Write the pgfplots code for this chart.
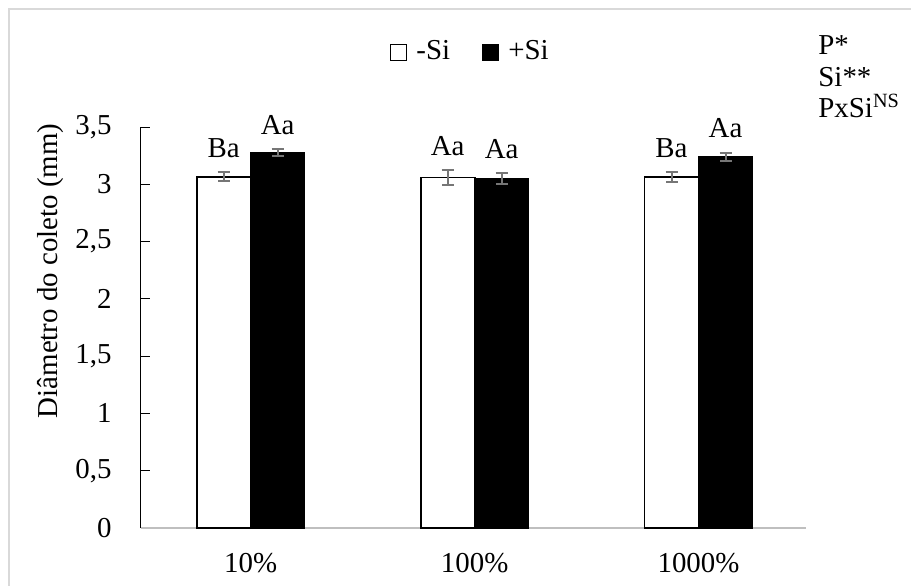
\documentclass[border=0pt]{standalone}
\usepackage{fontspec}
\setmainfont{Liberation Serif}
\usepackage{pgfplots}
\pgfplotsset{compat=1.18}
\usepackage{pgfplotstable}
\definecolor{bordergray}{HTML}{D9D9D9}
\definecolor{errgray}{HTML}{767676}
\definecolor{axisgray}{HTML}{BFBFBF}

\pgfplotstableread{
x y err lab
0 3.066 0.040 Ba
1 3.060 0.063 Aa
2 3.064 0.040 Ba
}\semsi
\pgfplotstableread{
x y err lab
0 3.276 0.030 Aa
1 3.050 0.050 Aa
2 3.241 0.035 Aa
}\comsi

\begin{document}
\fontsize{14.5}{17}\selectfont
\begin{tikzpicture}[font=\fontsize{14.5}{17}\selectfont]
\useasboundingbox (-70.5bp,-29bp) rectangle (385bp,264bp);
\draw[bordergray, line width=0.85bp] (-66bp,-40bp) -- (-66bp,259.5bp) -- (400bp,259.5bp);
\begin{axis}[
  scale only axis, width=332.5bp, height=200.5bp,
  ybar, bar width=27bp,
  xmin=-0.49, xmax=2.48, ymin=0, ymax=3.5,
  xtick={0,1,2}, xticklabels={10\%,100\%,1000\%},
  ytick={0,0.5,1,1.5,2,2.5,3,3.5},
  axis lines*=left,
  x axis line style={axisgray, line width=1bp},
  y axis line style={black, line width=0.5bp},
  xtick style={draw=none},
  ytick style={black, line width=0.5bp},
  tick align=inside, ytick align=inside, major tick length=4.5bp,
  yticklabel style={anchor=east, inner sep=0pt, xshift=-14.5bp},
  xticklabel style={anchor=north, inner sep=0pt, yshift=-12.5bp},
  /pgf/number format/use comma,
  /pgf/number format/assume math mode=true,
  ylabel={Diâmetro do coleto (mm)},
  ylabel style={at={(axis description cs:-0.1353,0.641)}, anchor=center},
  clip=false,
  legend style={draw=none, fill=none, at={(axis description cs:0.496,1.187)}, anchor=center,
    /tikz/every even column/.append style={column sep=14.5bp}, nodes={inner sep=1.5bp}},
  legend columns=2,
]
\addplot[fill=white, draw=black, line width=0.9bp, bar shift=-13.5bp,
  legend image code/.code={\draw[fill=white, draw=black, line width=0.6bp] (0bp,-4.2bp) rectangle (8bp,3.8bp); \path (11bp,0bp);},
  error bars/.cd, y dir=both, y explicit,
  error bar style={errgray, line width=1bp},
  error mark options={rotate=90, errgray, line width=1bp, mark size=3bp}]
  table[x=x, y=y, y error=err]{\semsi};
\addlegendentry{-Si}
\addplot[fill=black, draw=black, line width=0.6bp, bar shift=13.5bp,
  legend image code/.code={\draw[fill=black, draw=black, line width=0.6bp] (0bp,-4.2bp) rectangle (8bp,3.8bp); \path (11bp,0bp);},
  error bars/.cd, y dir=both, y explicit,
  error bar style={errgray, line width=1bp},
  error mark options={rotate=90, errgray, line width=1bp, mark size=3bp}]
  table[x=x, y=y, y error=err]{\comsi};
\addlegendentry{+Si}
\addplot[draw=none, fill=none, bar shift=-13.5bp, forget plot,
  point meta=explicit symbolic, nodes near coords,
  nodes near coords style={anchor=south, inner sep=0pt, black, yshift=7bp}]
  table[x=x, y expr=\thisrow{y}+\thisrow{err}, meta=lab]{\semsi};
\addplot[draw=none, fill=none, bar shift=13.5bp, forget plot,
  point meta=explicit symbolic, nodes near coords,
  nodes near coords style={anchor=south, inner sep=0pt, black, yshift=7bp}]
  table[x=x, y expr=\thisrow{y}+\thisrow{err}, meta=lab]{\comsi};
\end{axis}
\node[anchor=base west, inner sep=0pt] at (338.5bp,236.5bp) {P*};
\node[anchor=base west, inner sep=0pt] at (338.5bp,220.5bp) {Si**};
\node[anchor=base west, inner sep=0pt] at (338.5bp,205bp) {PxSi\textsuperscript{NS}};
\end{tikzpicture}
\end{document}
